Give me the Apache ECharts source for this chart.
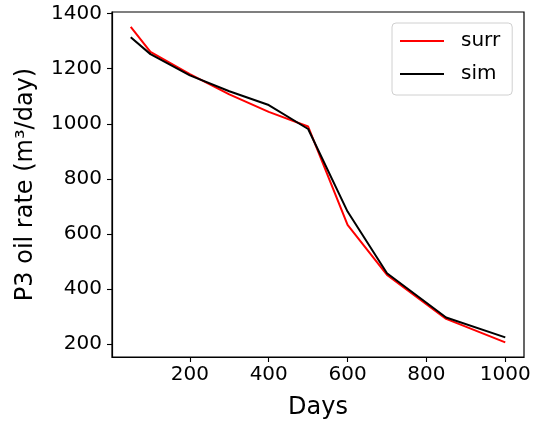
<!DOCTYPE html>
<html><head><meta charset="utf-8">
<script src="https://cdn.jsdelivr.net/npm/echarts@6/dist/echarts.min.js"></script>
<style>html,body{margin:0;padding:0;background:#fff}#c{width:535px;height:427px}</style>
</head><body><div id="c"></div>
<script>
const days = [50, 100, 200, 300, 400, 500, 600, 700, 850, 1000];
const surr = [1352, 1261, 1180, 1107, 1043, 990, 633, 451, 291, 206];
const sim  = [1314, 1253, 1176, 1118, 1068, 981, 681, 457, 296, 224];
const xTicks = [200, 400, 600, 800, 1000];
const yTicks = [200, 400, 600, 800, 1000, 1200, 1400];

const FONT = 'DejaVu Sans';
const chart = echarts.init(document.getElementById('c'), null, {renderer: 'canvas'});
const pair = (xs, ys) => xs.map((x, i) => [x, ys[i]]);
const plain = v => String(v);
chart.setOption({
  animation: false,
  backgroundColor: '#fff',
  grid: {left: 112, right: 11, top: 12, bottom: 70, show: true, borderColor: '#000', borderWidth: 1.2, backgroundColor: 'transparent'},
  xAxis: {
    type: 'value', min: 2.5, max: 1047.5,
    name: 'Days', nameLocation: 'middle', nameGap: 39,
    nameTextStyle: {fontFamily: FONT, fontSize: 24, color: '#000'},
    axisLine: {show: true, onZero: false, lineStyle: {color: '#000', width: 1.2}},
    axisTick: {show: true, inside: false, length: 5, lineStyle: {color: '#000', width: 1.1}, customValues: xTicks},
    axisLabel: {fontFamily: FONT, fontSize: 20, color: '#000', margin: 8, customValues: xTicks, formatter: plain},
    splitLine: {show: false}
  },
  yAxis: {
    type: 'value', min: 152.7, max: 1406,
    name: 'P3 oil rate (m³/day)', nameLocation: 'middle', nameGap: 74,
    nameTextStyle: {fontFamily: FONT, fontSize: 24, color: '#000'},
    axisLine: {show: true, onZero: false, lineStyle: {color: '#000', width: 1.2}},
    axisTick: {show: true, inside: false, length: 5, lineStyle: {color: '#000', width: 1.1}, customValues: yTicks},
    axisLabel: {fontFamily: FONT, fontSize: 20, color: '#000', margin: 10, customValues: yTicks, formatter: plain},
    splitLine: {show: false}
  },
  legend: {
    left: 392, top: 23, orient: 'vertical',
    backgroundColor: '#fff', borderColor: '#d0d0d0', borderWidth: 1, borderRadius: 4,
    padding: [8, 12, 11, 8], itemGap: 13, itemWidth: 44, itemHeight: 2,
    textStyle: {fontFamily: FONT, fontSize: 20, color: '#000', padding: [0, 0, 0, 12]},
    data: [{name: 'surr', icon: 'rect'}, {name: 'sim', icon: 'rect'}]
  },
  series: [
    {name: 'surr', type: 'line', data: pair(days, surr), showSymbol: false, symbol: 'none',
     color: '#ff0000', lineStyle: {color: '#ff0000', width: 2}},
    {name: 'sim', type: 'line', data: pair(days, sim), showSymbol: false, symbol: 'none',
     color: '#000000', lineStyle: {color: '#000000', width: 2}}
  ]
});
</script></body></html>
